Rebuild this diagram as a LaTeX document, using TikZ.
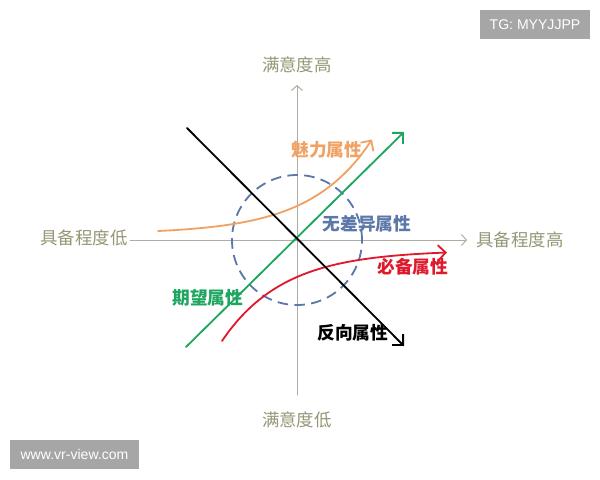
\documentclass[tikz,border=0pt]{standalone}
\usepackage{fontspec}
\setmainfont{Noto Sans CJK SC}
\newfontfamily\wmfont{Liberation Sans}
\usetikzlibrary{arrows.meta}
\definecolor{axisgray}{RGB}{172,172,160}
\definecolor{labelolive}{RGB}{150,150,118}
\definecolor{charmorange}{RGB}{240,162,100}
\definecolor{expgreen}{RGB}{30,166,96}
\definecolor{mustred}{RGB}{222,26,44}
\definecolor{indblue}{RGB}{92,120,168}
\definecolor{wmgray}{RGB}{166,166,166}
\newcommand{\attr}[4]{
	\node[font=\bfseries\fontsize{12.6}{14}\selectfont, text=#1] (#2) at (#3) {#4}
}

\begin{document}
\begin{tikzpicture}[line cap=round,
		tip/.style={-{Straight Barb[length=5.5pt,width=11pt]}},
		lbl/.style={font=\fontsize{12.4}{14}\selectfont, text=labelolive},
		wm/.style={fill=wmgray, text=white, font=\wmfont\fontsize{10}{12}\selectfont, minimum height=.725cm, inner sep=0pt}]
		\useasboundingbox (-7.425,-6) rectangle (7.575,6);
		% axes
		\coordinate (xl) at (-4.175,0); \coordinate (xr) at (4.25,0);
		\coordinate (yb) at (0,-3.875); \coordinate (yt) at (0,3.875);
		\draw[axisgray, line width=.7pt, -{Straight Barb[length=3.5pt,width=8pt]}] (xl)--(xr);
		\draw[axisgray, line width=.7pt, -{Straight Barb[length=3.5pt,width=8pt]}] (yb)--(yt);
		\node[lbl] (shigh) at (0,4.375) {满意度高};
		\node[lbl] (slow) at (0,-4.5) {满意度低};
		\node[lbl] (dlow) at (-5.325,.05) {具备程度低};
		\node[lbl] (dhigh) at (5.575,0) {具备程度高};
		\draw[indblue, line width=1.3pt, line cap=butt, dash pattern=on 7.5pt off 4.5pt] (0,0) circle (1.625);
		% attribute lines
		\coordinate (ks) at (-2.75,2.8); \coordinate (ke) at (2.675,-2.65);
		\coordinate (gs) at (-2.775,-2.675); \coordinate (ge) at (2.675,2.7);
		\draw[expgreen, line width=1.3pt, tip] (gs)--(ge);
		\draw[charmorange, line width=1.3pt, tip, domain=-3.475:1.875, smooth, samples=40]plot(\x, {.152+.698*exp(.65*\x)});
		\draw[mustred, line width=1.3pt, tip, domain=-1.875:3.75, smooth, samples=40]plot(\x, {-.254-.671*exp(-.65*\x)});
		\draw[black, line width=1.3pt, tip] (ks)--(ke);
		\attr{charmorange}{charm}{.75,2.25}{魅力属性};
		\attr{indblue}{indiff}{1.75,.4}{无差异属性};
		\attr{mustred}{must}{2.9,-.675}{必备属性};
		\attr{expgreen}{expect}{-2.225,-1.45}{期望属性};
		\attr{black}{rev}{1.4,-2.325}{反向属性};
		% marks
		\node[wm, minimum width=2.75cm] (tg) at (5.95,5.3875) {TG: MYYJJPP};
		\node[wm, minimum width=3.225cm] (site) at (-5.5625,-5.3625) {www.vr-view.com};
	\end{tikzpicture}
\end{document}
